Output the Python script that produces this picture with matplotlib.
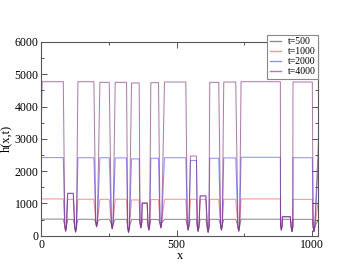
import matplotlib
matplotlib.use("Agg")
import matplotlib.pyplot as plt
from matplotlib.ticker import MultipleLocator

plt.rcParams["font.family"] = ["Liberation Serif", "DejaVu Serif"]

# ---- data ----------------------------------------------------------------
# plateaus (sides of each flat region) and the valleys between them
seg_left = [3, 97.3, 135.4, 216.6, 273.2, 333.4, 372.8, 404.8, 455.2, 551.2,
            587, 622.5, 674.2, 738.2, 890.7, 930, 1024]
seg_right = [81.3, 118.2, 194.4, 251.1, 315.0, 361.7, 391.3, 433.1, 534.0, 573.3,
             608, 655.7, 718.5, 883.4, 920.2, 1001.4, 1024]
valley_x = [90, 126.8, 204.3, 262.1, 322.4, 367.9, 397.4, 441.7, 542.6, 579.5,
            616.4, 665.6, 729.6, 887.0, 926.3, 1007.5]
valley_min = [146, 118, 280, 220, 110, 250, 180, 250, 180, 140, 110, 180, 146,
              180, 130, 130]

labels = ["t=500", "t=1000", "t=2000", "t=4000"]
h_start = [508, 1127, 2416, 3400]
h_t500 = [515, 508, 510, 508, 508, 505, 508, 505, 508, 508, 508, 508, 508, 512,
          508, 508, 508]
h_t1000 = [1140, 1127, 1130, 1127, 1130, 1110, 1010, 1120, 1130, 1127, 1127,
           1127, 1130, 1140, 589, 1127, 1110]
h_t2000 = [2420, 1313, 2416, 2416, 2410, 2380, 1010, 2400, 2416, 2330, 1235,
           2400, 2410, 2430, 589, 2416, 2300]
h_t4000 = [4770, 1313, 4770, 4750, 4750, 4730, 1010, 4740, 4760, 2469, 1235,
           4750, 4760, 4770, 589, 4760, 2900]
levels = [h_t500, h_t1000, h_t2000, h_t4000]
colors = ["#303030", "#ff3838", "#3838ff", "#7e3078"]
alphas = [0.55, 0.55, 0.55, 0.62]

KNEE = 3      # half width of the rounded valley bottom
KNEE_H = 150


def profile(start, lev):
    xs, ys = [0], [start]
    for k in range(len(seg_left)):
        xs += [seg_left[k], seg_right[k]]
        ys += [lev[k], lev[k]]
        if k < len(valley_x):
            vx, vm = valley_x[k], valley_min[k]
            xs += [vx - KNEE, vx, vx + KNEE]
            ys += [vm + KNEE_H, vm, vm + KNEE_H]
    return xs, ys


fig = plt.figure(figsize=(3.59, 2.78), dpi=100)
ax = fig.add_axes([0.115, 0.152, 0.772, 0.697])

for lab, st, lev, c, a in zip(labels, h_start, levels, colors, alphas):
    xs, ys = profile(st, lev)
    ax.plot(xs, ys, color=c, lw=0.75, alpha=a, label=lab)

ax.set_xlim(0, 1024)
ax.set_ylim(0, 6000)
ax.xaxis.set_major_locator(MultipleLocator(500))
ax.xaxis.set_minor_locator(MultipleLocator(250))
ax.yaxis.set_major_locator(MultipleLocator(1000))
ax.yaxis.set_minor_locator(MultipleLocator(500))
ax.tick_params(which="both", direction="in", top=True, right=True,
               colors="#555555", labelcolor="black", labelsize=8.5, width=0.7)
ax.tick_params(which="major", length=4, pad=2)
ax.tick_params(which="minor", length=2)
for sp in ax.spines.values():
    sp.set_color("#555555")
    sp.set_linewidth(0.8)

ax.set_xlabel("x", fontsize=9)
ax.set_ylabel("h(x,t)", fontsize=9)
ax.xaxis.set_label_coords(0.5, -0.072)
ax.yaxis.set_label_coords(-0.105, 0.5)

leg = ax.legend(loc="upper right", bbox_to_anchor=(1.0, 1.036), borderaxespad=0,
                fontsize=7, frameon=True, fancybox=False, framealpha=1,
                edgecolor="#888888", handlelength=1.2, handletextpad=0.7,
                labelspacing=0.1, borderpad=0.25)
leg.get_frame().set_linewidth(0.8)
for line in leg.get_lines():
    line.set_linewidth(1.0)

fig.savefig("out.png", dpi=100)
